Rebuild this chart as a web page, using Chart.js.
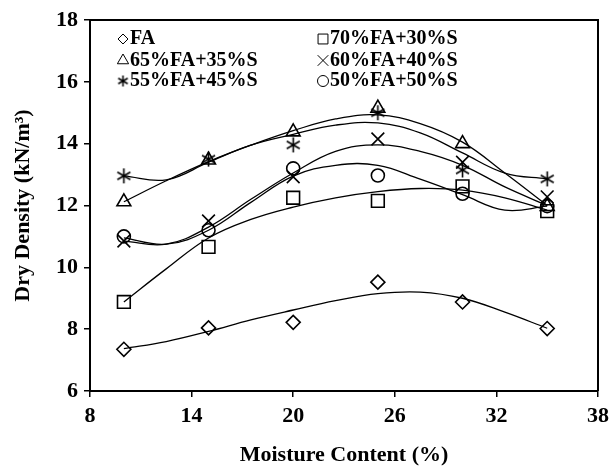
<!DOCTYPE html>
<html lang="en">
  <head>
    <meta charset="UTF-8" />
    <title>Dry density vs moisture content</title>
    <style>
      html, body { margin: 0; padding: 0; background: #ffffff; }
      .chart { width: 615px; height: 469px; }
    </style>
    <script src="https://cdn.jsdelivr.net/npm/chart.js"></script>
  </head>
  <body>
    <div class="chart">
      <canvas id="myChart" width="615" height="469"></canvas>
    </div>
    <script>
      // measured points
      const moisture = [10, 15, 20, 25, 30, 35];
      const fa = [7.35, 8.04, 8.22, 9.52, 8.88, 8.02];
      const fa70s30 = [8.88, 10.66, 12.25, 12.15, 12.62, 11.82];
      const fa65s35 = [12.12, 13.47, 14.38, 15.15, 14.0, 11.97];
      const fa60s40 = [10.85, 11.5, 12.93, 14.15, 13.4, 12.28];
      const fa55s45 = [12.96, 13.5, 13.96, 15.0, 13.15, 12.86];
      const fa50s50 = [11.0, 11.2, 13.2, 12.97, 12.38, 11.98];

      // trend lines
      const trendX = [10, 12.5, 15, 17.5, 20, 22.5, 25, 27.5, 30, 32.5, 35];
      const trendFa = [7.37, 7.6, 7.93, 8.3, 8.62, 8.92, 9.15, 9.2, 9.0, 8.55, 8.03];
      const trend70 = [8.88, 9.95, 10.95, 11.55, 11.95, 12.25, 12.45, 12.55, 12.5, 12.25, 11.85];
      const trend65 = [12.12, 12.8, 13.42, 13.95, 14.42, 14.8, 14.93, 14.65, 14.05, 13.05, 12.0];
      const trend60 = [10.85, 10.75, 11.3, 12.2, 13.05, 13.75, 13.96, 13.75, 13.3, 12.6, 12.0];
      const trend55 = [12.96, 12.83, 13.4, 13.95, 14.3, 14.6, 14.67, 14.35, 13.7, 13.05, 12.86];
      const trend50 = [10.95, 10.75, 11.2, 12.1, 12.95, 13.3, 13.3, 12.85, 12.35, 11.85, 11.98];

      const xTicks = [8, 14, 20, 26, 32, 38];
      const yTicks = [6, 8, 10, 12, 14, 16, 18];

      const font = "'Liberation Serif', 'Times New Roman', serif";

      // six-armed asterisk marker
      function asterisk(size, lw) {
        const c = document.createElement("canvas");
        c.width = size;
        c.height = size;
        const g = c.getContext("2d");
        const m = size / 2;
        const r = size / 2 - 1;
        g.strokeStyle = "#000";
        g.lineWidth = lw;
        g.beginPath();
        for (let a = 0; a < 3; a++) {
          const ang = Math.PI / 2 + (a * Math.PI) / 3;
          g.moveTo(m + r * Math.cos(ang), m + r * Math.sin(ang));
          g.lineTo(m - r * Math.cos(ang), m - r * Math.sin(ang));
        }
        g.stroke();
        return c;
      }
      const starBig = asterisk(17, 1.6);
      const starSmall = asterisk(13, 1.5);

      const series = [
        { label: "FA", pts: fa, fit: trendFa, style: "rectRot", r: 7, lr: 5 },
        { label: "70%FA+30%S", pts: fa70s30, fit: trend70, style: "rect", r: 9, lr: 7 },
        { label: "65%FA+35%S", pts: fa65s35, fit: trend65, style: "triangle", r: 8, lr: 6.5 },
        { label: "60%FA+40%S", pts: fa60s40, fit: trend60, style: "crossRot", r: 9, lr: 7.5 },
        { label: "55%FA+45%S", pts: fa55s45, fit: trend55, style: starBig, r: 8, lr: 6, small: starSmall },
        { label: "50%FA+50%S", pts: fa50s50, fit: trend50, style: "circle", r: 6.5, lr: 5.5 }
      ];

      const datasets = [];
      series.forEach((s) => {
        datasets.push({
          label: s.label + " trend",
          data: trendX.map((x, i) => ({ x: x, y: s.fit[i] })),
          showLine: true,
          borderColor: "#000",
          borderWidth: 1.3,
          pointRadius: 0,
          tension: 0.4,
          fill: false
        });
        datasets.push({
          label: s.label,
          data: moisture.map((x, i) => ({ x: x, y: s.pts[i] })),
          showLine: false,
          pointStyle: s.style,
          pointRadius: s.r,
          pointBorderColor: "#000",
          pointBackgroundColor: "rgba(255,255,255,0)",
          pointBorderWidth: 1.6
        });
      });

      // legend drawn inside the plot, two columns
      const innerLegend = {
        id: "innerLegend",
        afterDraw(chart) {
          const ctx = chart.ctx;
          const cols = [123, 323];
          const rows = [38, 59.5, 80];
          ctx.save();
          ctx.font = "bold 20px " + font;
          ctx.textBaseline = "middle";
          series.forEach((s, i) => {
            const x = cols[i % 2];
            const y = rows[Math.floor(i / 2)];
            ctx.strokeStyle = "#000";
            ctx.fillStyle = "rgba(255,255,255,0)";
            Chart.helpers.drawPoint(ctx, {
              pointStyle: s.small || s.style,
              radius: s.lr,
              rotation: 0,
              borderWidth: 1.5
            }, x, y + 1);
            ctx.fillStyle = "#000";
            ctx.fillText(s.label, x + 7, y + 1);
          });
          ctx.restore();
        }
      };

      // closes the box on the top and right
      const frame = {
        id: "frame",
        afterDraw(chart) {
          const a = chart.chartArea;
          const ctx = chart.ctx;
          ctx.save();
          ctx.strokeStyle = "#000";
          ctx.lineWidth = 2;
          ctx.beginPath();
          ctx.moveTo(a.left, a.top);
          ctx.lineTo(a.right, a.top);
          ctx.lineTo(a.right, a.bottom);
          ctx.stroke();
          ctx.restore();
        }
      };

      const config = {
        type: "scatter",
        data: { datasets: datasets },
        options: {
          responsive: false,
          animation: false,
          layout: { padding: { left: 10, top: 20, right: 14, bottom: 0 } },
          plugins: {
            legend: { display: false },
            tooltip: { enabled: false }
          },
          scales: {
            x: {
              type: "linear",
              min: 8,
              max: 38,
              afterBuildTicks: (s) => { s.ticks = xTicks.map((v) => ({ value: v })); },
              afterFit: (s) => { s.height = 78; },
              grid: { drawOnChartArea: false, drawTicks: true, tickLength: 6, color: "#000", lineWidth: 1.5 },
              border: { color: "#000", width: 2 },
              ticks: { color: "#000", font: { family: font, size: 22, weight: "bold" }, padding: 6 },
              title: {
                display: true,
                text: "Moisture Content (%)",
                color: "#000",
                font: { family: font, size: 22, weight: "bold" },
                padding: { top: 4, bottom: 0 }
              }
            },
            y: {
              min: 6,
              max: 18,
              afterBuildTicks: (s) => { s.ticks = yTicks.map((v) => ({ value: v })); },
              afterFit: (s) => { s.width = 80; },
              grid: { drawOnChartArea: false, drawTicks: true, tickLength: 6, color: "#000", lineWidth: 1.5 },
              border: { color: "#000", width: 2 },
              ticks: { color: "#000", font: { family: font, size: 22, weight: "bold" }, padding: 6 },
              title: {
                display: true,
                text: "Dry Density (kN/m³)",
                color: "#000",
                font: { family: font, size: 22, weight: "bold" },
                padding: { top: 0, bottom: 4 }
              }
            }
          }
        },
        plugins: [innerLegend, frame]
      };

      const myChart = new Chart(document.getElementById("myChart"), config);
    </script>
  </body>
</html>
